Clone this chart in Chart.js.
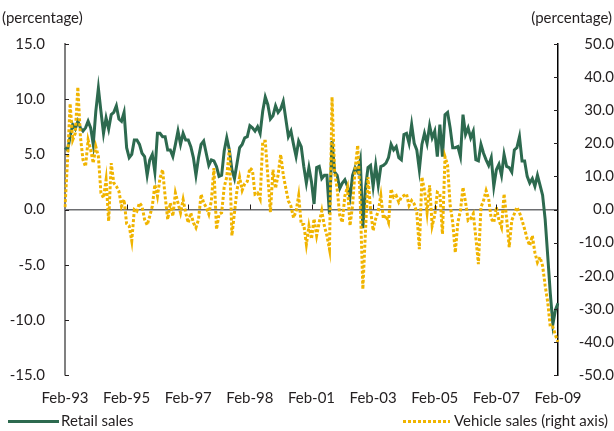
<!DOCTYPE html>
<html>
<head>
<meta charset="utf-8">
<script src="https://cdn.jsdelivr.net/npm/chart.js@4.4.1/dist/chart.umd.min.js"></script>
<style>
  html, body { margin: 0; padding: 0; background: #fff; }
  #wrap { position: relative; width: 614px; height: 431px; font-family: Lato, sans-serif; color: #231f20; }
  #c { position: absolute; left: 0; top: 0; }
  .unit { position: absolute; top: 8px; font-size: 15px; }
  .leg { position: absolute; top: 412px; font-size: 15px; white-space: nowrap; line-height: 17px; }
  .sw { position: absolute; top: 8px; height: 3px; }
</style>
</head>
<body>
<div id="wrap">
  <canvas id="c" width="614" height="431"></canvas>
  <div class="unit" style="left:2px">(percentage)</div>
  <div class="unit" style="right:2px">(percentage)</div>
  <div class="leg" style="left:8px">
    <span class="sw" style="left:0;width:51px;background:#2d6a4f"></span>
    <span style="margin-left:53px">Retail sales</span>
  </div>
  <div class="leg" style="left:403px">
    <span class="sw" style="left:0;width:47px;background:repeating-linear-gradient(to right,#f0b400 0 3px,transparent 3px 5px)"></span>
    <span style="margin-left:51px">Vehicle sales (right axis)</span>
  </div>
</div>
<script>
// monthly, Feb-93 .. Feb-09
const xTickLabels = ["Feb-93", "Feb-95", "Feb-97", "Feb-98", "Feb-01", "Feb-03", "Feb-05", "Feb-07", "Feb-09"];

const retailSales = [
  5.6, 5.4, 6.6, 7.7, 7.3, 8.0, 7.4, 7.1, 7.4, 8.0, 7.4, 5.9,
  8.9, 11.0, 8.9, 6.9, 8.3, 7.3, 8.6, 8.8, 9.4, 8.2, 8.0, 8.8,
  5.6, 4.7, 5.0, 6.3, 6.3, 5.9, 5.1, 4.8, 3.1, 4.5, 5.0, 3.4,
  6.9, 6.9, 6.6, 6.6, 5.4, 5.4, 4.8, 5.9, 7.1, 5.9, 6.9, 6.3,
  6.3, 5.7, 4.7, 3.1, 4.7, 5.9, 6.2, 5.1, 4.0, 4.5, 4.4, 3.9,
  3.0, 3.1, 5.3, 6.5, 5.4, 3.6, 2.8, 4.2, 5.6, 5.9, 6.5, 6.6,
  7.6, 7.4, 7.1, 7.5, 6.9, 8.9, 10.2, 9.5, 8.2, 8.5, 9.4, 8.8,
  9.1, 9.8, 8.2, 6.6, 7.1, 5.9, 4.8, 6.2, 5.7, 3.9, 2.4, 3.8,
  2.5, 0.5, 3.8, 3.9, 2.8, 3.1, 3.1, -0.4, 6.2, 3.4, 3.1, 1.9,
  2.4, 2.7, 2.1, 1.1, 3.1, 3.8, 3.4, 4.5, -1.7, 1.9, 3.8, 4.0,
  2.1, 4.0, 2.2, 3.9, 4.0, 4.2, 4.7, 5.9, 5.4, 5.7, 4.7, 4.5,
  6.8, 6.9, 6.0, 7.7, 6.0, 5.4, 3.6, 5.9, 6.9, 6.0, 7.6, 6.5,
  7.1, 4.8, 7.7, 4.8, 8.6, 8.8, 7.4, 5.6, 5.6, 5.7, 4.8, 8.6,
  6.8, 7.4, 6.5, 7.1, 4.5, 4.4, 5.9, 5.1, 4.5, 4.0, 4.7, 2.1,
  3.6, 4.1, 3.1, 5.0, 3.9, 3.8, 3.4, 5.4, 5.6, 6.6, 4.4, 4.4,
  3.0, 2.4, 2.8, 2.1, 3.1, 2.2, 1.3, -0.9, -4.2, -7.6, -10.4, -9.1,
  -8.5
];

const vehicleSales = [
  0.7, 15, 32, 21, 23, 37, 22, 15, 13, 21, 18, 14,
  19, 16, 5, 3.5, 9, -3.5, 14, 8, 7, 5.5, 1, 3,
  -4.3, -5, -9.5, 0, -0.5, 2, 1, -3, -4.7, -2, 1, 7.5,
  4, 9.5, 12, 4, -3, 2, -2, 5, 2, -1, 3, -1,
  -4, -1, -4, -5.5, -3, 4.6, 2, 0.7, -1.4, 2.6, 12.5, -6,
  -1.4, -1, 6.8, 9.8, 18.3, -7.9, -1, 6, 9.8, 5.8, 7.8, 8.5,
  12.5, 11.9, 4.6, 5, 3.2, 20.6, 20.6, 10, -0.8, 12, 6.4, 10.5,
  16.6, 10.5, 6.4, 2.6, 1, -2.5, -0.5, 4.2, -4.5, -4.5, -10.5, -5,
  -8.9, -2.8, -7.9, -3.9, -0.4, -4.9, -7.9, -12, 34, 11.3, 6.2, -1.8,
  -3.9, 4.2, 6.7, -4.9, 1.2, 12.3, 19.4, 2.2, -24.1, -6.9, 9.8, -0.1,
  -6.4, -2.8, -0.4, 4.2, -2.8, -1.8, -3.9, 6.2, 3.7, 4.2, 2.2, 3.7,
  4.2, 4.7, 1.2, 2.7, 1.7, -0.9, -12, 9.8, 5.7, -0.9, 7.3, -4.9,
  -1.8, 5.2, 4.7, -7.4, 15.9, 13.4, 1.2, -3.9, -13, -3.9, -0.4, 6.7,
  2.2, -3.3, -2.8, -1.3, -8.4, -16.5, 0.7, 2.7, 5.7, 3.2, -2.8, -3.9,
  0.7, -3.3, -5.4, 4.7, -2.8, -11.4, -3.3, -1.3, 0.7, -0.9, -3.3, -5.9,
  -8.9, -10.9, -7.9, -13, -16, -14.4, -17, -23, -28, -35.5, -35.5, -38,
  -40
];

// month labels for the category axis
const monthNames = ["Jan", "Feb", "Mar", "Apr", "May", "Jun", "Jul", "Aug", "Sep", "Oct", "Nov", "Dec"];
const months = [];
for (let i = 0; i < retailSales.length; i++) {
  let m = (1 + i) % 12;
  let yr = (93 + Math.floor((1 + i) / 12)) % 100;
  months.push(monthNames[m] + "-" + String(yr).padStart(2, "0"));
}

const textColor = "#231f20";
const tickFont = { family: "Lato", size: 15 };

// small tick marks pointing into the plot, and x ticks sitting on the zero line
const innerTicks = {
  id: "innerTicks",
  afterDraw(chart) {
    const { ctx, scales } = chart;
    const x = scales.x, y = scales.y, y1 = scales.y1;
    ctx.save();
    ctx.strokeStyle = textColor;
    ctx.lineWidth = 1;
    y.ticks.forEach((t, i) => {
      let py = Math.round(y.getPixelForTick(i)) + 0.5;
      ctx.beginPath(); ctx.moveTo(x.left, py); ctx.lineTo(x.left + 4, py); ctx.stroke();
    });
    y1.ticks.forEach((t, i) => {
      let py = Math.round(y1.getPixelForTick(i)) + 0.5;
      ctx.beginPath(); ctx.moveTo(x.right - 4, py); ctx.lineTo(x.right, py); ctx.stroke();
    });
    let y0 = y.getPixelForValue(0);
    for (let i = 24; i < months.length - 1; i += 24) {
      let px = Math.round(x.getPixelForValue(i)) + 0.5;
      ctx.beginPath(); ctx.moveTo(px, y0); ctx.lineTo(px, y0 - 5); ctx.stroke();
    }
    ctx.restore();
  }
};

new Chart(document.getElementById("c"), {
  type: "line",
  data: {
    labels: months,
    datasets: [
      {
        label: "Retail sales",
        data: retailSales,
        yAxisID: "y",
        borderColor: "#2d6a4f",
        borderWidth: 3,
        pointRadius: 0,
        tension: 0,
        order: 1
      },
      {
        label: "Vehicle sales (right axis)",
        data: vehicleSales,
        yAxisID: "y1",
        borderColor: "#f0b400",
        borderWidth: 3,
        borderDash: [3, 2],
        borderCapStyle: "butt",
        pointRadius: 0,
        tension: 0,
        order: 0
      }
    ]
  },
  options: {
    responsive: false,
    animation: false,
    layout: { padding: { top: 44, left: 0, right: 0, bottom: 0 } },
    plugins: { legend: { display: false }, tooltip: { enabled: false } },
    scales: {
      x: {
        grid: { display: false },
        border: { display: false },
        ticks: {
          autoSkip: false,
          maxRotation: 0,
          padding: 6,
          color: textColor,
          font: tickFont,
          callback: (v, i) => (i % 24 === 0 ? xTickLabels[i / 24] : null)
        },
        afterFit: (s) => { s.height = 56; }
      },
      y: {
        position: "left",
        min: -15,
        max: 15,
        ticks: { stepSize: 5, padding: 20, color: textColor, font: tickFont, callback: (v) => v.toFixed(1) },
        grid: {
          drawTicks: false,
          lineWidth: 1.5,
          color: (c) => (c.tick && c.tick.value === 0 ? "#6d6e71" : "rgba(0,0,0,0)")
        },
        border: { color: "#808080", width: 2 },
        afterFit: (s) => { s.width = 65; }
      },
      y1: {
        position: "right",
        min: -50,
        max: 50,
        ticks: { stepSize: 10, padding: 13, crossAlign: "far", color: textColor, font: tickFont, callback: (v) => v.toFixed(1) },
        grid: { drawOnChartArea: false, drawTicks: false },
        border: { color: "#000000", width: 1.5 },
        afterFit: (s) => { s.width = 56; }
      }
    }
  },
  plugins: [innerTicks]
});
</script>
</body>
</html>
